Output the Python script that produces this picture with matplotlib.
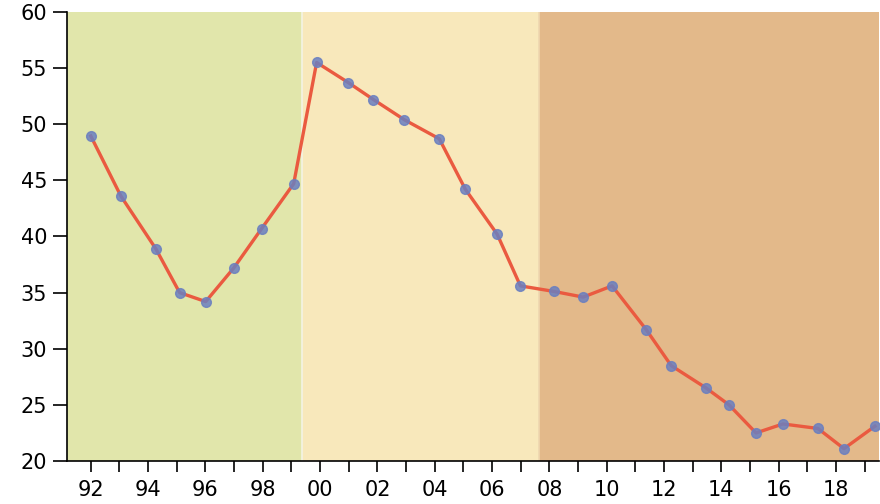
import numpy as np
import matplotlib.pyplot as plt
from matplotlib.ticker import MultipleLocator, FuncFormatter

# x positions (fractional years), y values
years = [1992.0, 1993.05, 1994.27, 1995.1, 1996.01, 1996.99, 1997.96, 1999.08,
         1999.88, 2000.99, 2001.86, 2002.94, 2004.16, 2005.07, 2006.18, 2006.99,
         2008.17, 2009.18, 2010.19, 2011.38, 2012.25, 2013.47, 2014.27, 2015.21,
         2016.15, 2017.37, 2018.28, 2019.36]
values = [48.95, 43.6, 38.9, 35.0, 34.2, 37.2, 40.7, 44.7,
          55.5, 53.7, 52.2, 50.4, 48.7, 44.2, 40.2, 35.6,
          35.1, 34.6, 35.6, 31.7, 28.5, 26.5, 25.0, 22.5,
          23.3, 22.9, 21.1, 23.1]

# shaded periods
bands = [(1991.16, 1999.37, '#e1e6ab'),
         (1999.37, 2007.63, '#f8e8bb'),
         (2007.63, 2019.5, '#e3b98a')]

fig = plt.figure(figsize=(8.8, 5.04), dpi=100)
ax = fig.add_axes([0.0758, 0.0853, 0.923, 0.891])

for x0, x1, c in bands:
    ax.axvspan(x0, x1, color=c, lw=0, zorder=0)
ax.axvline(1999.37, color='#f4f4e4', lw=1.2, zorder=1)
ax.axvline(2007.63, color='#eed6b0', lw=1.2, zorder=1)

ax.plot(years, values, color='#ea5a40', lw=2.4, zorder=3, clip_on=False)
ax.plot(years, values, 'o', ms=7, color='#6a7fc0', alpha=0.85, mec='#6a7fc0',
        zorder=4, clip_on=False)

ax.set_xlim(1991.16, 2019.5)
ax.set_ylim(20, 60)
ax.yaxis.set_major_locator(MultipleLocator(5))
ax.xaxis.set_major_locator(MultipleLocator(2))
ax.xaxis.set_minor_locator(MultipleLocator(1))
ax.xaxis.set_major_formatter(FuncFormatter(lambda v, p: f"{int(round(v)) % 100:02d}"))

for s in ['top', 'right']:
    ax.spines[s].set_visible(False)
ax.spines['left'].set_linewidth(1.2)
ax.spines['bottom'].set_linewidth(1.2)

ax.tick_params(axis='y', length=10, width=1.2, labelsize=15, pad=4)
ax.tick_params(axis='x', which='both', length=8, width=1.2, labelsize=15, pad=6)

plt.savefig('out.png', dpi=100)
